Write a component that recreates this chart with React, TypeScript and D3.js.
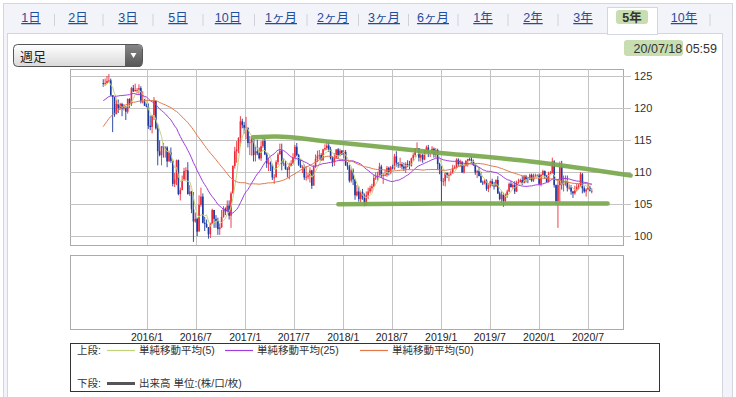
import * as d3 from 'd3';
import React from 'react';

// USD/JPY weekly, 2015/7/20 .. 2020/7/13 (one value per week, one line per month)
const weekStart = new Date(2015, 6, 20);
const weekEnd = new Date(2020, 6, 14);
const firstOpen = 123.9;

// closes before the visible range, only used for the moving averages
const priorClose = [
	102.4, 103.8, 104.1,
	105.1, 107.4, 109.0, 109.3,
	109.8, 107.6, 106.9, 108.1, 112.3,
	114.6, 116.3, 117.8, 118.6,
	121.4, 118.8, 119.5, 120.4,
	120.5, 118.6, 117.5, 117.7, 117.5,
	119.1, 118.6, 119.0, 119.6,
	120.8, 121.4, 120.0, 119.1,
	118.9, 120.2, 118.9, 118.9,
	120.2, 119.8, 119.4, 121.5, 124.1,
	125.6, 123.4, 122.7, 123.9,
	122.8, 122.8, 124.1,
];

const weeklyClose = [
	// 2015
	123.8, 123.9,
	124.2, 124.3, 122.0, 121.7, 119.0,
	120.6, 120.0, 120.6, 119.9,
	120.2, 119.4, 121.4, 120.6,
	123.1, 122.6, 122.8, 122.8, 123.1,
	121.0, 121.0, 120.3, 120.2,
	// 2016
	117.2, 117.0, 118.8, 121.1,
	116.8, 113.2, 112.6, 114.0, 113.8,
	113.8, 111.6, 113.0, 111.7,
	108.1, 108.8, 111.8, 106.5,
	107.1, 108.6, 110.1, 110.2, 106.5,
	106.9, 104.1, 102.2, 102.6,
	100.6, 104.8, 106.1, 102.0,
	101.8, 101.3, 100.2, 101.8, 104.0,
	102.6, 102.3, 101.0, 101.3,
	102.9, 104.2, 103.8, 104.7, 103.1,
	106.6, 110.9, 113.2, 113.5,
	115.3, 117.9, 117.3, 116.9,
	// 2017
	116.9, 114.5, 114.6, 115.1, 112.6,
	113.2, 112.9, 112.1, 114.0,
	114.8, 112.7, 111.3, 111.4,
	111.1, 109.1, 109.1, 111.5,
	112.7, 113.3, 111.3, 111.3, 110.4,
	110.3, 110.9, 111.3, 112.2,
	113.9, 112.6, 111.1, 110.7, 110.7,
	109.1, 109.2, 109.4, 110.2,
	107.8, 110.8, 112.0, 112.5,
	112.6, 111.8, 113.5, 113.7, 114.1,
	113.5, 112.1, 111.5, 112.2,
	113.5, 112.6, 113.3, 112.7,
	// 2018
	113.1, 111.0, 110.8, 108.6, 110.2,
	108.8, 106.3, 106.9, 105.7,
	106.8, 106.0, 104.7, 106.3,
	106.9, 107.4, 107.7, 109.0, 109.1,
	109.4, 110.8, 109.4, 109.5,
	109.5, 110.6, 109.9, 110.7,
	110.5, 112.4, 111.4, 111.0, 111.2,
	110.8, 110.5, 111.2, 111.0,
	110.9, 112.1, 112.6, 113.7,
	113.7, 112.2, 112.6, 111.9, 113.2,
	113.8, 112.8, 113.0, 113.6,
	112.7, 113.4, 111.2, 110.3,
	// 2019
	108.5, 108.5, 109.8, 109.5, 109.5,
	109.7, 110.5, 110.7, 111.9,
	111.2, 111.5, 109.9, 110.9,
	111.7, 112.0, 111.9, 111.6, 111.1,
	109.9, 110.1, 109.3, 108.3,
	108.2, 108.6, 107.3, 107.8,
	108.5, 107.9, 107.7, 108.7, 106.6,
	105.7, 106.4, 105.4, 106.3,
	106.9, 108.1, 107.6, 107.9, 106.9,
	108.3, 108.4, 108.7, 108.2,
	109.3, 108.8, 108.7, 109.5,
	108.6, 109.4, 109.4, 109.4, 108.1,
	// 2020
	109.5, 110.1, 109.3, 108.4,
	109.7, 109.8, 111.6, 107.9,
	105.4, 107.9, 110.8, 107.9, 108.5,
	108.5, 107.5, 107.5, 106.9,
	106.6, 107.1, 107.6, 107.8,
	109.6, 107.4, 106.9, 107.2, 107.5,
	107.0, 107.0,
];

const weeklyHigh = [
	// 2015
	124.5, 124.6,
	125.0, 125.3, 124.6, 122.0, 121.7,
	121.3, 121.3, 120.8, 120.8,
	120.6, 120.2, 121.5, 121.5,
	123.3, 123.6, 123.8, 123.1, 123.7,
	123.4, 122.6, 121.4, 120.7,
	// 2016
	120.7, 118.8, 118.9, 121.7,
	121.0, 117.5, 114.9, 114.0, 114.5,
	114.0, 114.0, 113.3, 113.8,
	111.9, 109.8, 111.9, 111.9,
	107.5, 109.4, 110.6, 110.7, 111.5,
	107.9, 107.0, 106.8, 103.6,
	102.8, 106.3, 107.5, 106.6,
	102.9, 102.5, 101.3, 102.0, 104.2,
	104.0, 103.2, 102.8, 101.9,
	104.0, 104.6, 104.4, 105.5, 105.5,
	106.9, 111.0, 113.9, 114.8,
	115.4, 118.7, 118.3, 117.8,
	// 2017
	118.6, 116.9, 115.6, 115.4, 115.0,
	113.9, 115.0, 113.8, 114.8,
	115.5, 115.2, 113.0, 112.2,
	111.6, 111.1, 109.6, 111.8,
	113.0, 114.4, 114.4, 112.1, 111.7,
	110.7, 111.4, 111.8, 112.9,
	114.2, 114.5, 112.8, 111.9, 111.0,
	111.1, 110.9, 109.8, 110.7,
	110.3, 111.0, 112.7, 113.3,
	113.4, 112.9, 113.6, 114.3, 114.7,
	114.7, 113.9, 112.4, 112.9,
	113.5, 113.7, 113.6, 113.4,
	// 2018
	113.4, 113.4, 111.5, 111.1, 110.5,
	110.5, 108.9, 107.9, 107.7,
	107.0, 107.3, 106.6, 106.9,
	107.5, 107.8, 108.1, 109.5, 109.9,
	110.0, 111.4, 111.1, 109.8,
	110.3, 110.9, 110.8, 110.9,
	111.1, 112.8, 113.2, 111.5, 112.2,
	111.5, 111.4, 111.5, 111.8,
	111.7, 112.2, 112.9, 113.7,
	114.6, 113.6, 112.9, 112.9, 113.4,
	114.1, 114.2, 113.2, 114.0,
	113.8, 113.7, 113.6, 111.4,
	// 2019
	110.9, 109.0, 109.9, 109.9, 109.8,
	110.2, 111.1, 111.0, 112.1,
	112.1, 111.9, 111.7, 111.0,
	111.8, 112.0, 112.2, 112.4, 111.9,
	111.1, 110.3, 110.7, 110.0,
	108.6, 108.8, 108.8, 108.2,
	108.6, 108.9, 108.4, 108.8, 109.3,
	106.9, 106.9, 106.7, 106.6,
	107.2, 108.3, 108.5, 108.2, 108.5,
	108.6, 108.9, 108.9, 109.3,
	109.5, 109.5, 109.1, 109.7,
	109.7, 109.7, 109.7, 109.6, 109.7,
	// 2020
	109.7, 110.3, 110.2, 109.5,
	110.0, 110.1, 112.2, 111.8,
	108.0, 108.8, 111.6, 111.7, 109.4,
	109.4, 109.4, 108.0, 107.9,
	107.0, 107.8, 108.1, 108.1,
	109.9, 109.8, 107.7, 107.4, 108.2,
	107.8, 107.4,
];

const weeklyLow = [
	// 2015
	123.3, 123.6,
	123.8, 124.0, 121.9, 116.2, 118.6,
	119.2, 119.2, 119.7, 118.7,
	119.6, 118.1, 119.1, 120.0,
	120.3, 122.5, 122.6, 122.3, 122.2,
	120.7, 120.7, 120.3, 120.1,
	// 2016
	116.7, 116.5, 116.0, 118.1,
	116.6, 111.0, 112.4, 111.0, 112.2,
	112.2, 110.7, 111.6, 111.4,
	107.7, 107.6, 107.9, 106.3,
	105.5, 107.6, 108.7, 108.7, 106.4,
	106.2, 103.5, 99.0, 102.0,
	99.9, 100.7, 104.5, 101.9,
	100.7, 101.2, 99.5, 99.6, 101.8,
	101.2, 101.2, 100.1, 100.1,
	101.2, 102.8, 103.2, 103.6, 102.5,
	101.2, 106.6, 110.5, 111.4,
	112.9, 114.0, 116.8, 116.0,
	// 2017
	115.1, 113.8, 112.6, 112.5, 111.6,
	111.6, 112.6, 111.9, 111.7,
	113.7, 112.6, 110.6, 110.1,
	110.1, 108.7, 108.1, 109.2,
	111.1, 112.7, 110.2, 110.9, 110.3,
	109.1, 108.8, 110.9, 111.2,
	112.2, 112.4, 110.9, 110.6, 109.8,
	108.7, 108.6, 108.8, 108.3,
	107.3, 107.9, 110.6, 111.5,
	111.9, 111.7, 111.7, 113.3, 113.4,
	113.1, 111.9, 110.8, 110.9,
	112.0, 112.0, 112.4, 112.6,
	// 2018
	112.1, 110.9, 110.3, 108.3, 108.3,
	107.9, 105.6, 106.1, 105.3,
	105.2, 105.6, 104.6, 104.7,
	105.7, 106.6, 106.9, 107.6, 108.7,
	108.6, 109.4, 109.0, 108.1,
	109.3, 109.2, 109.4, 109.6,
	110.3, 110.3, 110.8, 110.6, 110.6,
	110.4, 110.1, 109.8, 110.7,
	110.4, 110.8, 111.7, 112.3,
	113.6, 111.6, 111.6, 111.4, 111.8,
	112.9, 112.3, 112.3, 112.9,
	112.2, 112.2, 110.3, 109.6,
	// 2019
	104.9, 107.8, 107.7, 109.0, 108.5,
	109.4, 109.7, 110.4, 110.4,
	110.8, 110.8, 109.8, 109.7,
	110.8, 110.8, 111.7, 111.4, 110.9,
	109.5, 109.0, 109.3, 108.3,
	107.9, 108.0, 107.0, 106.8,
	107.5, 107.7, 107.2, 107.6, 106.5,
	105.5, 105.1, 104.5, 105.1,
	105.9, 106.8, 107.5, 107.3, 106.5,
	106.8, 108.1, 108.3, 107.9,
	108.2, 108.3, 108.2, 108.7,
	108.4, 108.4, 109.2, 109.3, 107.9,
	// 2020
	107.7, 109.4, 108.9, 108.3,
	108.3, 109.6, 109.7, 107.5,
	105.0, 101.2, 105.2, 107.2, 106.9,
	107.8, 106.9, 107.2, 106.4,
	105.9, 106.4, 106.9, 107.2,
	107.6, 106.6, 106.7, 106.1, 107.2,
	106.9, 106.6,
];

const priceTicks = [100, 105, 110, 115, 120, 125];
const dateTicks = ['2016/1', '2016/7', '2017/1', '2017/7', '2018/1', '2018/7', '2019/1', '2019/7', '2020/1', '2020/7'];
const periodTabs = ['1日', '2日', '3日', '5日', '10日', '1ヶ月', '2ヶ月', '3ヶ月', '6ヶ月', '1年', '2年', '3年', '5年', '10年'];
const tabCenters = [31, 78, 128, 178, 228, 281, 333, 384, 433, 483, 533, 583, 632, 684];
const selectedTab = '5年';

const maPeriods = [5, 25, 50];
const maColors = ['#c2d47a', '#a03ee0', '#e2784a'];
const maLabels = ['単純移動平均(5)', '単純移動平均(25)', '単純移動平均(50)'];

// hand-drawn trend lines over the chart
const upperTrend: [string, number][] = [
	['2017-01-30', 115.4], ['2017-04-23', 115.5], ['2017-11-14', 114.7],
	['2018-11-22', 113.1], ['2019-11-30', 111.6], ['2020-12-07', 109.4],
];
const lowerTrend: [string, number][] = [
	['2017-12-14', 104.9], ['2019-01-15', 105.0], ['2020-09-12', 105.0],
];

const font = "'Liberation Sans', 'Noto Sans CJK JP', sans-serif";

const App = (): React.JSX.Element => {
	const weeks = d3.timeMonday.range(weekStart, weekEnd);
	const allClose = priorClose.concat(weeklyClose);
	const offset = priorClose.length;

	const x = d3.scaleTime()
		.domain([new Date(2016, 0, 1), new Date(2020, 6, 1)])
		.range([147, 588]);
	const y = d3.scaleLinear().domain([100, 125]).range([235.5, 76]);

	const panel = { left: 70, right: 623, top: 69, bottom: 245 };
	const volPanel = { top: 255, bottom: 329 };

	const candles = weeks.map((week, i) => {
		const open = i === 0 ? firstOpen : weeklyClose[i - 1];
		return {
			cx: x(d3.timeDay.offset(week, 2)),
			open,
			close: weeklyClose[i],
			high: weeklyHigh[i],
			low: weeklyLow[i],
		};
	});

	const movingAverages = maPeriods.map((period) =>
		weeks.map((week, i) => {
			const end = offset + i + 1;
			return [x(d3.timeDay.offset(week, 2)), d3.mean(allClose.slice(end - period, end)) ?? 0] as [number, number];
		}));

	const maLine = d3.line<[number, number]>().x((d) => d[0]).y((d) => y(d[1]));
	const trendLine = d3.line<[string, number]>()
		.x((d) => x(new Date(d[0])))
		.y((d) => y(d[1]))
		.curve(d3.curveMonotoneX);

	const gridDates = dateTicks.map((label) => {
		const [yr, mo] = label.split('/').map(Number);
		return new Date(yr, mo - 1, 1);
	});

	return (
		<svg width={736} height={397} style={{ position: 'fixed', left: 0, top: 0, background: '#fff' }} fontFamily={font}>
			<rect x={3.5} y={3.5} width={729} height={400} fill="#f3f4f9" stroke="#d3d6e0" />
			<rect x={7.5} y={33.5} width={715} height={370} fill="#fff" stroke="#d3d6e0" />

			{/* period tabs */}
			<rect x={607.5} y={7.5} width={50} height={27} fill="#fff" stroke="#d3d6e0" />
			<line x1={608} x2={657} y1={33.5} y2={33.5} stroke="#fff" />
			{periodTabs.map((tab, i) => {
				const selected = tab === selectedTab;
				return (
					<g key={tab}>
						{selected && <rect x={tabCenters[i] - 16} y={10} width={32} height={14} rx={3} fill="#c8deb0" />}
						<text
							x={tabCenters[i]} y={22} textAnchor="middle" fontSize={12.5}
							fill={selected ? '#333' : '#1f4ea0'}
							fontWeight={selected ? 'bold' : 'normal'}
							textDecoration={selected ? 'none' : 'underline'}
						>{tab}</text>
						{i > 0 && i !== 12 && i !== 13 && (
							<line x1={(tabCenters[i] + tabCenters[i - 1]) / 2} x2={(tabCenters[i] + tabCenters[i - 1]) / 2}
								y1={14} y2={26} stroke="#cfd2dc" />
						)}
					</g>
				);
			})}
			<line x1={710} x2={710} y1={14} y2={26} stroke="#cfd2dc" />

			{/* period selector */}
			<defs>
				<linearGradient id="selGrad" x1="0" x2="0" y1="0" y2="1">
					<stop offset="0" stopColor="#ffffff" />
					<stop offset="1" stopColor="#d9d9d9" />
				</linearGradient>
				<linearGradient id="btnGrad" x1="0" x2="0" y1="0" y2="1">
					<stop offset="0" stopColor="#858585" />
					<stop offset="1" stopColor="#555555" />
				</linearGradient>
			</defs>
			<rect x={13.5} y={44.5} width={129} height={22} rx={4} fill="url(#selGrad)" stroke="#555" />
			<path d="M125,45 h13 a4,4 0 0 1 4,4 v14 a4,4 0 0 1 -4,4 h-13 z" fill="url(#btnGrad)" />
			<path d="M130.5,53 h6 l-3,5 z" fill="#fff" />
			<text x={20} y={60.5} fontSize={13} fill="#222">週足</text>

			{/* timestamp */}
			<rect x={624} y={40} width={59} height={16} rx={3} fill="#c8deb0" />
			<text x={717} y={52.5} textAnchor="end" fontSize={12.5} fill="#333">20/07/18 05:59</text>

			{/* price panel */}
			<rect x={panel.left + 0.5} y={panel.top + 0.5} width={panel.right - panel.left} height={panel.bottom - panel.top}
				fill="#fff" stroke="#aaa" />
			{priceTicks.map((t) => (
				<g key={t}>
					<line x1={panel.left} x2={panel.right + 8} y1={Math.round(y(t)) + 0.5} y2={Math.round(y(t)) + 0.5} stroke="#c4c4c4" />
					<text x={634} y={y(t) + 4} fontSize={11} fill="#333">{t}</text>
				</g>
			))}
			{gridDates.map((d) => (
				<g key={d.getTime()}>
					<line x1={Math.round(x(d)) + 0.5} x2={Math.round(x(d)) + 0.5} y1={panel.top} y2={panel.bottom} stroke="#c4c4c4" />
					<line x1={Math.round(x(d)) + 0.5} x2={Math.round(x(d)) + 0.5} y1={volPanel.top} y2={volPanel.bottom} stroke="#c4c4c4" />
				</g>
			))}

			{/* candles */}
			{candles.map((c, i) => {
				const up = c.close >= c.open;
				const color = up ? '#ec2a36' : '#1d3aa0';
				const top = y(Math.max(c.open, c.close));
				const bottom = y(Math.min(c.open, c.close));
				return (
					<g key={i}>
						<line x1={c.cx} x2={c.cx} y1={y(c.high)} y2={y(c.low)} stroke={color} strokeWidth={0.9} />
						<rect x={c.cx - 0.8} y={top} width={1.6} height={Math.max(bottom - top, 0.8)} fill={color} />
					</g>
				);
			})}

			{/* moving averages */}
			{movingAverages.map((pts, i) => (
				<path key={maPeriods[i]} d={maLine(pts) ?? ''} fill="none" stroke={maColors[i]} strokeWidth={1} />
			))}

			{/* trend annotations */}
			<path d={trendLine(upperTrend) ?? ''} fill="none" stroke="#79a84c" strokeOpacity={0.92} strokeWidth={4.5} strokeLinecap="round" />
			<path d={trendLine(lowerTrend) ?? ''} fill="none" stroke="#79a84c" strokeOpacity={0.92} strokeWidth={4.5} strokeLinecap="round" />

			{/* volume panel (empty) */}
			<rect x={panel.left + 0.5} y={volPanel.top + 0.5} width={panel.right - panel.left} height={volPanel.bottom - volPanel.top}
				fill="none" stroke="#aaa" />
			{gridDates.map((d, i) => (
				<text key={i} x={x(d)} y={341} textAnchor="middle" fontSize={10.5} fill="#222">{dateTicks[i]}</text>
			))}

			{/* legend */}
			<rect x={70.5} y={343.5} width={589} height={48} fill="#fff" stroke="#333" />
			<text x={77} y={354} fontSize={10.5} fill="#333">上段:</text>
			{[107, 225, 360].map((lx, i) => (
				<g key={lx}>
					<line x1={lx} x2={lx + 28} y1={350.5} y2={350.5} stroke={maColors[i]} strokeWidth={1.2} />
					<text x={lx + 32} y={354} fontSize={10.5} fill="#333">{maLabels[i]}</text>
				</g>
			))}
			<text x={77} y={387} fontSize={10.5} fill="#333">下段:</text>
			<line x1={107} x2={135} y1={383.5} y2={383.5} stroke="#555" strokeWidth={3} />
			<text x={139} y={387} fontSize={10.5} fill="#333">出来高 単位:(株/口/枚)</text>
		</svg>
	);
};

export default App;
